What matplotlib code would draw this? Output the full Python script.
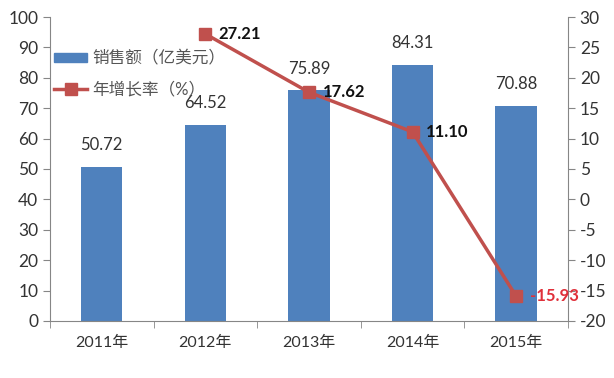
import matplotlib
matplotlib.use("Agg")
import matplotlib.pyplot as plt
from matplotlib.lines import Line2D
from matplotlib.patches import Patch

plt.rcParams['font.family'] = ['Lato', 'Noto Sans CJK SC', 'DejaVu Sans']
plt.rcParams['axes.unicode_minus'] = False

years = ['2011年', '2012年', '2013年', '2014年', '2015年']
sales = [50.72, 64.52, 75.89, 84.31, 70.88]
growth = [None, 27.21, 17.62, 11.10, -15.93]
growth_labels = ['', '27.21', '17.62', '11.10', '-15.93']

bar_color = '#4F81BD'
line_color = '#C0504D'
axis_color = '#868686'
text_color = '#333333'

fig = plt.figure(figsize=(6.14, 3.78), dpi=100)
ax = fig.add_axes([0.0814, 0.151, 0.8436, 0.804])
x = list(range(len(years)))
ax.bar(x, sales, width=0.4, color=bar_color, zorder=2)
ax.set_xlim(-0.5, len(years) - 0.5)
ax.set_ylim(0, 100)
ax.set_yticks(range(0, 101, 10))
ax.set_xticks(x)
ax.set_xticklabels(years, fontsize=11.5, color=text_color)
ax.set_xticks([i + 0.5 for i in range(-1, len(years))], minor=True)
ax.tick_params(axis='x', which='major', length=0, pad=11)
ax.tick_params(axis='x', which='minor', length=5, color=axis_color, direction='out')
ax.tick_params(axis='y', labelsize=12.5, length=5, color=axis_color, direction='out', labelcolor=text_color)
for s in ['top', 'right']:
    ax.spines[s].set_visible(False)
for s in ['left', 'bottom']:
    ax.spines[s].set_color(axis_color)

for xi, v in zip(x, sales):
    ax.text(xi, v + 4.5, f'{v:.2f}', ha='center', va='bottom', fontsize=12, color=text_color)

ax2 = ax.twinx()
ax2.set_ylim(-20, 30)
ax2.set_yticks(range(-20, 31, 5))
ax2.tick_params(axis='y', labelsize=12.5, length=5, color=axis_color, direction='out', labelcolor=text_color)
for s in ['top', 'left', 'bottom']:
    ax2.spines[s].set_visible(False)
ax2.spines['right'].set_color(axis_color)

gx = [xi for xi, g in zip(x, growth) if g is not None]
gy = [g for g in growth if g is not None]
ax2.plot(gx, gy, color=line_color, lw=2.5, marker='s', markersize=9, zorder=3)
for xi, g, lab in zip(x, growth, growth_labels):
    if g is None:
        continue
    c = '#E0303A' if g < 0 else '#111111'
    ax2.text(xi + 0.13, g, lab, ha='left', va='center', fontsize=12, fontweight='bold', color=c)

handles = [Patch(color=bar_color, label='销售额（亿美元）'),
           Line2D([0], [0], color=line_color, lw=2.5, marker='s', markersize=9, label='年增长率（%）')]
ax2.legend(handles=handles, loc='upper left', bbox_to_anchor=(0.008, 0.89), frameon=False,
           fontsize=12, handlelength=2.0, handleheight=0.5, labelspacing=0.9, handletextpad=0.3,
           borderaxespad=0, borderpad=0, labelcolor='#555555')

fig.savefig('out.png', dpi=100)
